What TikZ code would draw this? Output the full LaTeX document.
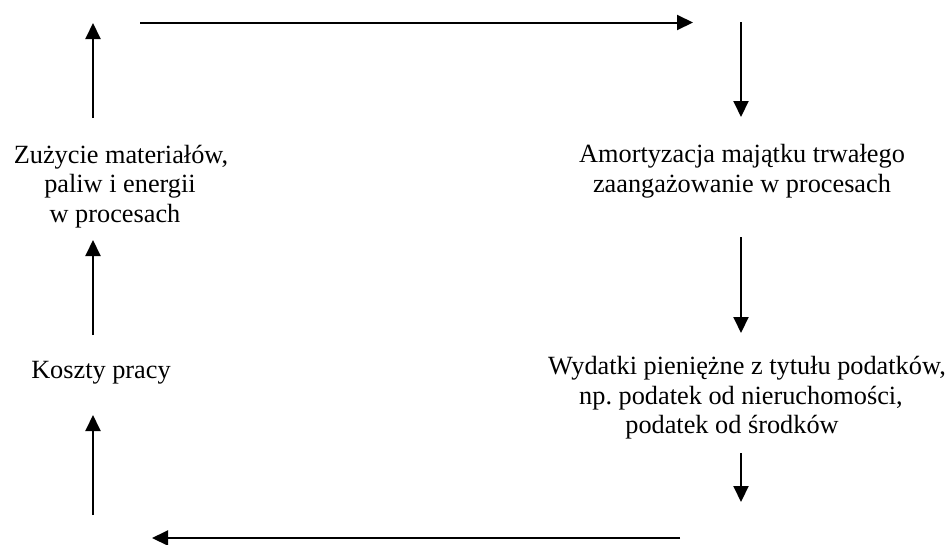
\documentclass[tikz,border=0pt]{standalone}
\usepackage{fontspec}
\setmainfont{Liberation Serif}
\usetikzlibrary{arrows.meta}
\frenchspacing
\tikzset{
  lbl/.style={anchor=base, inner sep=0pt, font=\fontsize{26.3}{30}\selectfont},
  flow/.style={line width=2pt, -{Triangle[length=16pt, width=15pt]}}
}
\begin{document}
\begin{tikzpicture}[x=1pt, y=-1pt]
\useasboundingbox (0,0) rectangle (952,544);
% texts
\node[lbl] (z1) at (121,163) {Zużycie materiałów,};
\node[lbl] (z2) at (120,192.5) {paliw i energii};
\node[lbl] (z3) at (115,222) {w procesach};
\node[lbl] (k) at (101,378) {Koszty pracy};
\node[lbl] (a1) at (742,162) {Amortyzacja majątku trwałego};
\node[lbl] (a2) at (742,192) {zaangażowanie w procesach};
\node[lbl] (w1) at (747,374) {Wydatki pieniężne z tytułu podatków,};
\node[lbl] (w2) at (741,404) {np.\ podatek od nieruchomości,};
\node[lbl] (w3) at (732,433) {podatek od środków};
% connector end points
\coordinate (l1s) at (93,515); \coordinate (l1e) at (93,415);
\coordinate (l2s) at (93,335); \coordinate (l2e) at (93,240);
\coordinate (l3s) at (93,118); \coordinate (l3e) at (93,23);
\coordinate (ts) at (140,22.5); \coordinate (te) at (693,22.5);
\coordinate (r1s) at (741,22); \coordinate (r1e) at (741,117);
\coordinate (r2s) at (741,237); \coordinate (r2e) at (741,333);
\coordinate (r3s) at (741,453); \coordinate (r3e) at (741,502);
\coordinate (bs) at (680,538); \coordinate (be) at (152,538);
% arrows
\draw[flow] (l1s) -- (l1e);
\draw[flow] (l2s) -- (l2e);
\draw[flow] (l3s) -- (l3e);
\draw[flow] (ts) -- (te);
\draw[flow] (r1s) -- (r1e);
\draw[flow] (r2s) -- (r2e);
\draw[flow] (r3s) -- (r3e);
\draw[flow] (bs) -- (be);
\end{tikzpicture}
\end{document}
